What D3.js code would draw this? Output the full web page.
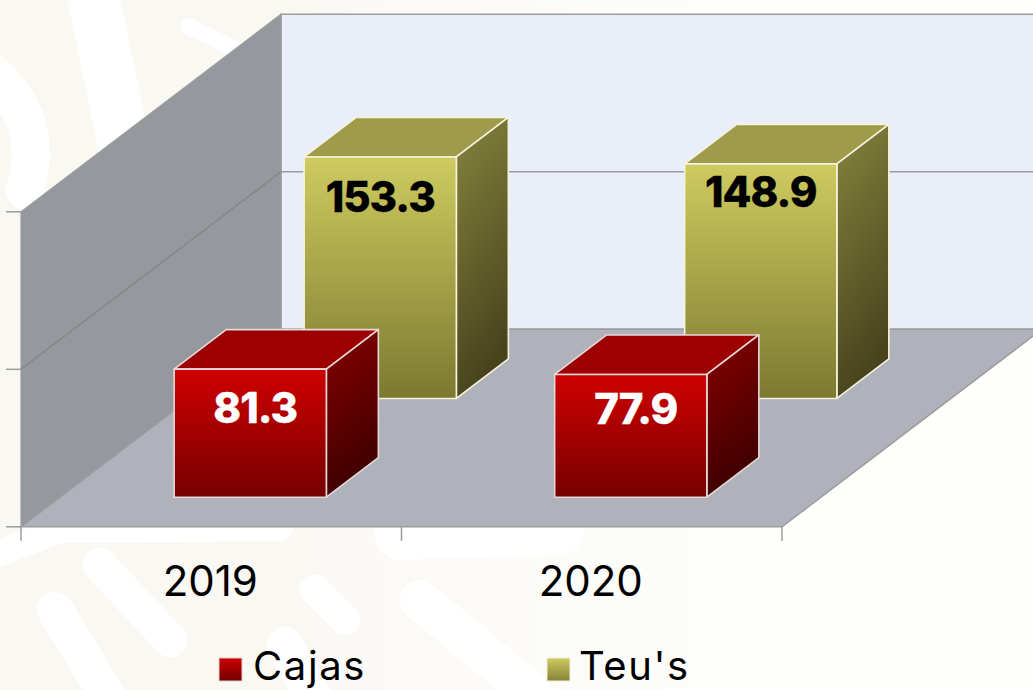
<!DOCTYPE html>
<html><head><meta charset="utf-8">
<script src="https://cdn.jsdelivr.net/npm/d3@7/dist/d3.min.js"></script>
<style>html,body{margin:0;padding:0;background:#fff;overflow:hidden}svg{display:block}text{font-family:Inter,"Open Sans",sans-serif}</style>
</head><body><svg id="c" width="1033" height="690"></svg>
<script>
const categories = ["2019", "2020"];
const seriesNames = ["Cajas", "Teu's"];
const cajas = [81.3, 77.9];
const teus = [153.3, 148.9];
const yTicks = [0, 100, 200];

const W = 1033, H = 690;
const svg = d3.select("#c");
const defs = svg.append("defs");
function grad(id, stops, x2 = 0, y2 = 1) {
  const g = defs.append("linearGradient").attr("id", id).attr("x1", 0).attr("y1", 0).attr("x2", x2).attr("y2", y2);
  stops.forEach((c, i) => g.append("stop").attr("offset", i / (stops.length - 1)).attr("stop-color", c));
}
grad("rf", ["#cf0000", "#760000"]);
grad("rs", ["#880000", "#3e0000"], .25, 1);
grad("yf", ["#cfcb60", "#7c7930"]);
grad("ys", ["#86843e", "#47431d"], .25, 1);
grad("lr", ["#d00000", "#700000"]);
grad("ly", ["#cfcb60", "#85823a"]);

// Pale watermark behind the chart
const bg = svg.append("g");
grad("wm", ["#faf8f3", "#faf8f3", "#fcfbf7", "#fefefb", "#fefefc"], 1, 0);
bg.append("rect").attr("width", W).attr("height", H).attr("fill", "url(#wm)");
const wm = [
  ["M92,-10 L125,150", 52], ["M-12,70 C25,100 40,140 25,190", 38], ["M188,26 L250,56", 16],
  ["M-20,560 L60,530 L280,528", 26], ["M100,565 L170,640", 34], ["M55,610 L110,700", 36],
  ["M315,590 L345,620", 30], ["M285,645 L315,700", 36], ["M400,535 L560,530", 50],
  ["M420,600 L540,700", 40]
];
bg.selectAll("path").data(wm).join("path").attr("d", d => d[0]).attr("fill", "none")
  .attr("stroke", "#fff").attr("stroke-width", d => d[1]).attr("stroke-linecap", "round").attr("stroke-linejoin", "round");

// Scales: x across the floor, y for value, z for the depth rows
const x = d3.scaleBand().domain(categories).range([21, 782]).paddingInner(.6).paddingOuter(.3);
const xOuter = d3.scaleBand().domain(categories).range([21, 782]);
const y = d3.scaleLinear().domain([0, 200]).range([526.8, 211.8]);
const z = d3.scaleBand().domain(seriesNames).range([0, 1]).paddingInner(.6).paddingOuter(.3);
const dx = 260, dy = 197.5;
const P = (px, val, depth) => [px + depth * dx, y(val) - depth * dy];
const poly = pts => "M" + pts.map(p => p.join(",")).join("L") + "Z";
const xA = 21, xB = 782, yMax = y.domain()[1];

const walls = svg.append("g");
const wallStroke = "#9b9c9e";
walls.append("path").attr("d", poly([P(xA, 0, 1), P(xB + 400, 0, 1), P(xB + 400, yMax, 1), P(xA, yMax, 1)]))
  .attr("fill", "#eaeef9").attr("stroke", wallStroke).attr("stroke-width", 1.5);
walls.append("path").attr("d", poly([P(xA, 0, 0), P(xA, 0, 1), P(xA, yMax, 1), P(xA, yMax, 0)]))
  .attr("fill", "#95989c").attr("stroke", wallStroke).attr("stroke-width", 1.2);
walls.append("path").attr("d", poly([P(xA, 0, 0), P(xB, 0, 0), P(xB, 0, 1), P(xA, 0, 1)]))
  .attr("fill", "#afb2ba").attr("stroke", wallStroke).attr("stroke-width", 1.5);

// Gridline on walls
const seg = (a, b, w = 1.5, c = wallStroke) => walls.append("line").attr("x1", a[0]).attr("y1", a[1]).attr("x2", b[0]).attr("y2", b[1])
  .attr("stroke", c).attr("stroke-width", w);
yTicks.slice(1, -1).forEach(t => {
  seg(P(xA, t, 0), P(xA, t, 1), 1.3, "#838587");
  seg(P(xA, t, 1), P(xB + 400, t, 1));
});
// Axis ticks
yTicks.forEach(t => seg(P(xA - 15, t, 0), P(xA, t, 0)));
[...categories.map(c => xOuter(c)), xB].forEach(v => {
  walls.append("line").attr("x1", v).attr("x2", v).attr("y1", y(0)).attr("y2", y(0) + 14)
    .attr("stroke", wallStroke).attr("stroke-width", 1.5);
});

// Bars, back row first
const rows = [
  { name: "Teu's", vals: teus, f: "url(#yf)", s: "url(#ys)", t: "#a09b4b", e: "#f4f3dc", lab: "#000", off: [55, 43], shift: 0 },
  { name: "Cajas", vals: cajas, f: "url(#rf)", s: "url(#rs)", t: "#9c0000", e: "#e6d8d8", lab: "#fff", off: [54, 50], shift: 5 }
];
rows.forEach(r => {
  const zA = z(r.name), zB = zA + z.bandwidth();
  const g = svg.append("g");
  categories.forEach((c, i) => {
    const a = x(c), b = a + x.bandwidth(), v = r.vals[i];
    const bar = g.append("g").attr("stroke", r.e).attr("stroke-width", 1.6).attr("stroke-linejoin", "round");
    bar.append("path").attr("d", poly([P(a, v, zA), P(b, v, zA), P(b, v, zB), P(a, v, zB)])).attr("fill", r.t);
    bar.append("path").attr("d", poly([P(b, 0, zA), P(b, 0, zB), P(b, v, zB), P(b, v, zA)])).attr("fill", r.s);
    bar.append("path").attr("d", poly([P(a, 0, zA), P(b, 0, zA), P(b, v, zA), P(a, v, zA)])).attr("fill", r.f);
    const ft = P(a + x.bandwidth() / 2, v, zA);
    g.append("text").attr("x", ft[0] + r.shift).attr("y", ft[1] + r.off[i]).attr("text-anchor", "middle")
      .attr("font-size", 42).attr("font-weight", 800).attr("letter-spacing", -1)
      .attr("stroke", r.lab).attr("stroke-width", .3).attr("fill", r.lab).text(v.toFixed(1));
  });
});

// Category labels
svg.append("g").selectAll("text").data(categories).join("text")
  .attr("x", c => xOuter(c) + xOuter.bandwidth() / 2 - 1).attr("y", 596).attr("text-anchor", "middle")
  .attr("font-size", 42).attr("font-weight", 400).attr("fill", "#000").text(c => c);

// Legend
const legendX = d3.scalePoint().domain(seriesNames).range([219, 547]);
const lg = svg.append("g").selectAll("g").data(seriesNames).join("g")
  .attr("transform", d => `translate(${legendX(d)},658)`);
lg.append("rect").attr("width", 23).attr("height", 23).attr("fill", (d, i) => i ? "url(#ly)" : "url(#lr)")
  .attr("stroke", (d, i) => i ? "#f1f0dd" : "#e2cccc").attr("stroke-width", 1);
lg.append("text").attr("x", (d, i) => i ? 32 : 34).attr("y", 22).attr("font-size", 40).attr("letter-spacing", 1.6)
  .attr("fill", "#000").text(d => d);
</script></body></html>
